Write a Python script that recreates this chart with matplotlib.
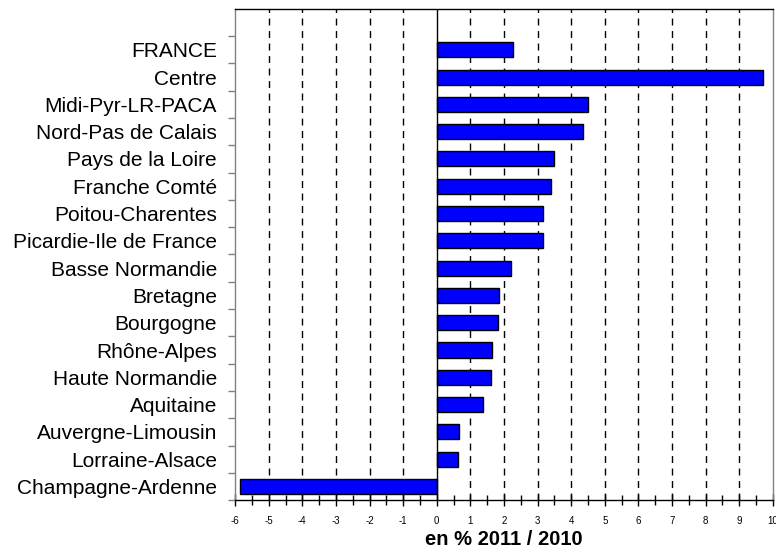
#!/usr/bin/env python3
import numpy as np
import matplotlib.pyplot as plt

plt.rcParams['font.family'] = ['Liberation Sans', 'DejaVu Sans']

regions = ['FRANCE', 'Centre', 'Midi-Pyr-LR-PACA', 'Nord-Pas de Calais',
           'Pays de la Loire', 'Franche Comté', 'Poitou-Charentes',
           'Picardie-Ile de France', 'Basse Normandie', 'Bretagne',
           'Bourgogne', 'Rhône-Alpes', 'Haute Normandie', 'Aquitaine',
           'Auvergne-Limousin', 'Lorraine-Alsace', 'Champagne-Ardenne']
valeurs = [2.26, 9.72, 4.49, 4.34, 3.50, 3.41, 3.15, 3.15, 2.22, 1.85,
           1.82, 1.63, 1.60, 1.36, 0.67, 0.63, -5.85]
xticks = list(range(-6, 11))

fig = plt.figure(figsize=(7.76, 5.49), dpi=100)
ax = fig.add_axes([0.303, 0.089, 0.693, 0.895])

n = len(regions)
y = np.arange(n)[::-1]
ax.barh(y, valeurs, height=0.55, color='#0000ff', edgecolor='black',
        linewidth=1, zorder=3)

# lignes verticales pointillees
for v in xticks:
    if v in (-6, 10):
        continue
    if v == 0:
        ax.axvline(0, color='black', lw=1, zorder=4)
    else:
        ax.axvline(v, color='black', lw=1, ls=(0, (5, 4)), zorder=1)

ax.set_xlim(-6, 10)
ax.set_ylim(-0.5, n + 0.5)
ax.set_xticks(xticks)
ax.set_xticklabels([str(v) for v in xticks], fontsize=7)
ax.set_xticks(np.arange(-5.5, 10, 1.0), minor=True)
ax.tick_params(axis='x', which='major', direction='inout', length=9,
               width=1, color='black', pad=7)
ax.tick_params(axis='x', which='minor', direction='inout', length=7,
               width=1, color='black')

ax.set_yticks(y)
ax.set_yticklabels(regions, fontsize=15)
ax.set_yticks(np.arange(-0.5, n, 1.0), minor=True)
ax.tick_params(axis='y', which='major', length=0, pad=13)
ax.tick_params(axis='y', which='minor', direction='out', length=5,
               width=1, color='#808080')

ax.spines['left'].set_color('#808080')
ax.spines['right'].set_color('#808080')
ax.spines['top'].set_color('black')
ax.spines['bottom'].set_color('black')
for s in ax.spines.values():
    s.set_linewidth(1)

ax.set_xlabel('en % 2011 / 2010', fontsize=14.5, fontweight='bold', labelpad=2.5)

fig.savefig('out.png', dpi=100)
